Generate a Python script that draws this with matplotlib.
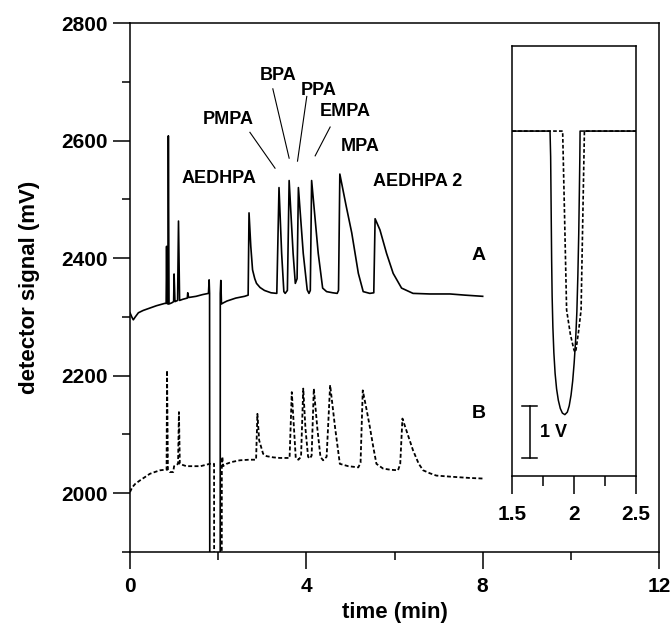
import numpy as np
import matplotlib
matplotlib.use('Agg')
import matplotlib.pyplot as plt
from matplotlib.ticker import MultipleLocator, NullLocator

plt.rcParams['font.family'] = ['Liberation Sans', 'DejaVu Sans']
plt.rcParams['font.weight'] = 'bold'

# trace A (solid), time in min, signal in mV
t_a = [0.00, 0.04, 0.075, 0.12, 0.19, 0.30, 0.45, 0.60, 0.79, 0.82, 0.83, 0.84, 0.86, 0.87, 0.885,
       0.95, 0.99, 1.00, 1.02, 1.05, 1.08, 1.10, 1.125, 1.20, 1.30, 1.31, 1.33, 1.50, 1.65, 1.78, 1.795,
       2.06, 2.075, 2.12, 2.20, 2.40, 2.60, 2.68, 2.70, 2.74, 2.78, 2.83, 2.87, 2.95, 3.05, 3.20, 3.33,
       3.38, 3.44, 3.49, 3.52, 3.57, 3.61, 3.70, 3.75, 3.79, 3.82, 3.93, 4.02, 4.06, 4.09, 4.12,
       4.27, 4.37, 4.46, 4.60, 4.70, 4.73, 4.76, 4.90, 5.03, 5.18, 5.29, 5.44, 5.53, 5.56, 5.67,
       5.82, 5.97, 6.16, 6.42, 6.80, 7.26, 7.60, 8.00]
mv_a = [2307, 2300, 2295, 2300, 2307, 2311, 2315, 2319, 2323, 2323, 2420, 2323, 2322, 2608, 2322,
        2324, 2326, 2373, 2326, 2327, 2328, 2463, 2328, 2330, 2332, 2341, 2333, 2335, 2338, 2340, 2363,
        2362, 2322, 2324, 2327, 2332, 2335, 2337, 2477, 2420, 2380, 2365, 2357, 2350, 2345, 2341, 2340,
        2520, 2408, 2343, 2340, 2345, 2532, 2408, 2357, 2365, 2520, 2408, 2346, 2340, 2345, 2532,
        2408, 2349, 2343, 2341, 2340, 2345, 2543, 2490, 2443, 2374, 2343, 2340, 2341, 2467, 2448,
        2408, 2374, 2349, 2340, 2339, 2339, 2337, 2335]

# trace B (dashed)
t_b = [0.00, 0.05, 0.12, 0.23, 0.35, 0.45, 0.56, 0.68, 0.80, 0.83, 0.84, 0.86, 0.90, 0.98, 1.00,
       1.05, 1.09, 1.11, 1.13, 1.20, 1.28, 1.44, 1.60, 1.81, 1.88, 1.895,
       2.095, 2.11, 2.19, 2.30, 2.49, 2.70, 2.86, 2.89, 2.93, 3.02, 3.10, 3.25, 3.40, 3.62,
       3.67, 3.72, 3.76, 3.82, 3.88, 3.93, 3.98, 4.04, 4.08, 4.12, 4.17, 4.25, 4.32, 4.38,
       4.46, 4.54, 4.65, 4.76, 4.95, 5.18, 5.23, 5.28, 5.37, 5.44, 5.52, 5.59, 5.74, 5.90,
       6.08, 6.13, 6.18, 6.30, 6.42, 6.55, 6.65, 6.80, 6.95, 7.30, 7.70, 8.00]
mv_b = [2002, 2010, 2016, 2022, 2028, 2033, 2036, 2039, 2040, 2040, 2209, 2040, 2036, 2036, 2046,
        2048, 2050, 2138, 2050, 2048, 2046, 2046, 2046, 2050, 2050, 2061,
        2062, 2046, 2050, 2053, 2056, 2057, 2057, 2135, 2090, 2067, 2063, 2061, 2060, 2060,
        2172, 2110, 2060, 2057, 2062, 2178, 2110, 2062, 2059, 2064, 2178, 2110, 2062, 2056,
        2062, 2184, 2113, 2050, 2046, 2044, 2052, 2175, 2141, 2113, 2078, 2050, 2042, 2040,
        2039, 2050, 2127, 2100, 2073, 2050, 2039, 2034, 2030, 2028, 2026, 2025]

# system peak (inset), time in min, signal in V relative to baseline
dip_t_a = [1.5, 1.805, 1.810, 1.814, 1.818, 1.822, 1.828, 1.836, 1.846, 1.858, 1.872, 1.888,
           1.905, 1.925, 1.945, 1.960, 1.975, 1.988, 2.000, 2.012, 2.022, 2.030, 2.037, 2.042,
           2.046, 2.048, 2.5]
dip_v_a = [0, 0, -0.5, -1.5, -2.5, -3.2, -3.8, -4.3, -4.7, -5.0, -5.22, -5.38,
           -5.47, -5.5, -5.45, -5.33, -5.12, -4.85, -4.5, -4.05, -3.5, -2.8, -2.0, -1.2,
           -0.5, 0, 0]
dip_t_b = [1.5, 1.895, 1.907, 1.923, 1.939, 1.97, 1.998, 2.007, 2.015, 2.035, 2.056, 2.07, 2.083, 2.5]
dip_v_b = [0, 0, 0, -1.7, -3.47, -3.95, -4.24, -4.29, -4.24, -3.9, -3.47, -1.67, 0, 0]
base_a = 2340
base_b = 2050

peak_labels = ['AEDHPA', 'PMPA', 'BPA', 'PPA', 'EMPA', 'MPA', 'AEDHPA 2']
label_x = [2.02, 2.22, 3.36, 4.29, 4.88, 5.22, 6.53]
label_y = [2535, 2636, 2711, 2685, 2650, 2590, 2530]


def splice(t, mv, dt, dv, base):
    t = np.asarray(t, float)
    mv = np.asarray(mv, float)
    dt = np.asarray(dt[1:-1], float)
    dv = base + 1000 * np.asarray(dv[1:-1], float)
    lo = t < dt[0]
    hi = t > dt[-1]
    return np.concatenate([t[lo], dt, t[hi]]), np.concatenate([mv[lo], dv, mv[hi]])


fig = plt.figure(figsize=(6.7, 6.32), dpi=100)
ax = fig.add_axes([130 / 670, 1 - 552 / 632, 529 / 670, 529 / 632])

xa, ya = splice(t_a, mv_a, dip_t_a, dip_v_a, base_a)
xb, yb = splice(t_b, mv_b, dip_t_b, dip_v_b, base_b)
ax.plot(xa, ya, color='black', lw=1.2)
ax.plot(xb, yb, color='black', lw=1.3, linestyle=(0, (2.2, 1.3)))

ax.set_xlim(0, 12)
ax.set_ylim(1900, 2800)
ax.xaxis.set_major_locator(MultipleLocator(4))
ax.xaxis.set_minor_locator(MultipleLocator(2))
ax.yaxis.set_major_locator(MultipleLocator(200))
ax.yaxis.set_minor_locator(MultipleLocator(100))
ax.tick_params(which='major', direction='out', length=12, width=1.1, labelsize=15)
ax.tick_params(which='minor', direction='out', length=6, width=1.1)
ax.tick_params(axis='x', which='major', pad=6)
ax.tick_params(axis='y', which='major', pad=4)
for s in ax.spines.values():
    s.set_linewidth(1.1)

ax.set_xlabel('time (min)', fontsize=16, fontweight='bold')
ax.set_ylabel('detector signal (mV)', fontsize=16, fontweight='bold')
ax.xaxis.set_label_coords(0.5, -0.094)
ax.yaxis.set_label_coords(-0.17, 0.5)

for lab, x, y in zip(peak_labels, label_x, label_y):
    ax.text(x, y, lab, fontsize=13, fontweight='bold', ha='center', va='center')

# leader lines
ax.plot([2.72, 3.29], [2614, 2553], color='black', lw=0.8)
ax.plot([3.24, 3.61], [2688, 2570], color='black', lw=0.8)
ax.plot([4.01, 3.80], [2675, 2565], color='black', lw=0.8)
ax.plot([4.54, 4.20], [2623, 2574], color='black', lw=0.8)

ax.text(7.9, 2405, 'A', fontsize=14, fontweight='bold', ha='center', va='center')
ax.text(7.9, 2135, 'B', fontsize=14, fontweight='bold', ha='center', va='center')

# inset with the system peak
axi = fig.add_axes([512.3 / 670, 1 - 476 / 632, 123.7 / 670, 430 / 632])
axi.plot(dip_t_a, dip_v_a, color='black', lw=1.1)
axi.plot(dip_t_b, dip_v_b, color='black', lw=1.2, linestyle=(0, (2.2, 1.3)))
axi.set_xlim(1.5, 2.5)
axi.set_ylim(-6.69, 1.65)
axi.xaxis.set_major_locator(MultipleLocator(0.5))
axi.xaxis.set_minor_locator(MultipleLocator(0.25))
axi.xaxis.set_major_formatter(plt.FuncFormatter(lambda v, p: f'{v:g}'))
axi.yaxis.set_major_locator(NullLocator())
axi.tick_params(which='major', direction='out', length=13, width=1.1, labelsize=15, pad=8)
axi.tick_params(which='minor', direction='out', length=7, width=1.1)
for s in axi.spines.values():
    s.set_linewidth(1.1)

# 1 V scale bar
axi.plot([1.643, 1.643], [-6.34, -5.34], color='black', lw=1.1)
axi.plot([1.576, 1.702], [-5.34, -5.34], color='black', lw=1.1)
axi.plot([1.576, 1.702], [-6.34, -6.34], color='black', lw=1.1)
axi.text(1.72, -5.85, '1 V', fontsize=13, fontweight='bold', ha='left', va='center')

fig.savefig('out.png', dpi=100)
